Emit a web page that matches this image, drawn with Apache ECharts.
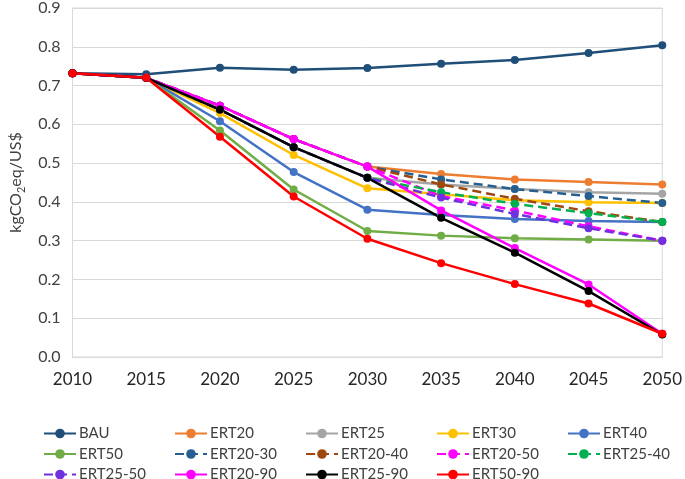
<!DOCTYPE html>
<html>
<head>
<meta charset="utf-8">
<script src="https://cdn.jsdelivr.net/npm/echarts@6/dist/echarts.min.js"></script>
<style>html,body{margin:0;padding:0;background:#fff}#c{width:685px;height:479px}</style>
</head>
<body>
<div id="c"></div>
<script>
const years = ['2010','2015','2020','2025','2030','2035','2040','2045','2050'];
const yTicks = [0,0.1,0.2,0.3,0.4,0.5,0.6,0.7,0.8,0.9];
const BAU      = [0.732, 0.729, 0.746, 0.741, 0.745, 0.756, 0.766, 0.784, 0.804];
const ERT20    = [0.732, 0.720, 0.648, 0.562, 0.491, 0.472, 0.458, 0.451, 0.445];
const ERT25    = [0.732, 0.720, 0.638, 0.541, 0.462, 0.445, 0.433, 0.425, 0.421];
const ERT30    = [0.732, 0.720, 0.629, 0.521, 0.435, 0.420, 0.404, 0.399, 0.397];
const ERT40    = [0.732, 0.720, 0.608, 0.477, 0.380, 0.366, 0.356, 0.351, 0.348];
const ERT50    = [0.732, 0.720, 0.584, 0.432, 0.325, 0.313, 0.306, 0.303, 0.300];
const ERT20_30 = [0.732, 0.720, 0.648, 0.562, 0.491, 0.458, 0.433, 0.415, 0.397];
const ERT20_40 = [0.732, 0.720, 0.648, 0.562, 0.491, 0.445, 0.408, 0.376, 0.348];
const ERT20_50 = [0.732, 0.720, 0.648, 0.562, 0.491, 0.415, 0.378, 0.337, 0.300];
const ERT25_40 = [0.732, 0.720, 0.638, 0.541, 0.462, 0.425, 0.395, 0.371, 0.348];
const ERT25_50 = [0.732, 0.720, 0.638, 0.541, 0.462, 0.411, 0.369, 0.332, 0.300];
const ERT20_90 = [0.732, 0.720, 0.648, 0.562, 0.491, 0.378, 0.281, 0.187, 0.060];
const ERT25_90 = [0.732, 0.720, 0.638, 0.541, 0.462, 0.359, 0.269, 0.170, 0.058];
const ERT50_90 = [0.732, 0.720, 0.568, 0.414, 0.305, 0.242, 0.188, 0.138, 0.060];

const seriesDefs = [
  ['BAU', BAU, '#1F4E79', false],
  ['ERT20', ERT20, '#ED7D31', false],
  ['ERT25', ERT25, '#A5A5A5', false],
  ['ERT30', ERT30, '#FFC000', false],
  ['ERT40', ERT40, '#4472C4', false],
  ['ERT50', ERT50, '#70AD47', false],
  ['ERT20-30', ERT20_30, '#255E91', true],
  ['ERT20-40', ERT20_40, '#9E480E', true],
  ['ERT20-50', ERT20_50, '#FF00FF', true],
  ['ERT25-40', ERT25_40, '#00B050', true],
  ['ERT25-50', ERT25_50, '#7030E0', true],
  ['ERT20-90', ERT20_90, '#FF00FF', false],
  ['ERT25-90', ERT25_90, '#000000', false],
  ['ERT50-90', ERT50_90, '#FF0000', false]
];

const FONT = 'Lato, "Open Sans", sans-serif';
const series = seriesDefs.map(([name, data, color, dashed]) => ({
  name, type: 'line', data,
  symbol: 'circle', symbolSize: 8,
  color,
  lineStyle: { width: 2.5, type: dashed ? [9, 5] : 'solid', color },
  itemStyle: { color },
  animation: false
}));

const colX = [43, 174, 305, 436, 567];
const legends = colX.map((x, i) => ({
  orient: 'vertical', left: x, top: 426, height: 80, padding: 0,
  itemWidth: 32, itemHeight: 12, itemGap: 5.5,
  data: [seriesDefs[i][0], seriesDefs[i+5] && seriesDefs[i+5][0], seriesDefs[i+10] && seriesDefs[i+10][0]].filter(Boolean),
  textStyle: { fontFamily: FONT, fontSize: 15, lineHeight: 14, color: '#404040', padding: [0,0,0,-2] },
  selectedMode: false
}));

const chart = echarts.init(document.getElementById('c'), null, { renderer: 'canvas' });
chart.setOption({
  backgroundColor: '#fff',
  animation: false,
  grid: { left: 66, right: 20, top: 6, bottom: 122, show: true, borderColor: '#d9d9d9', borderWidth: 1 },
  legend: legends,
  xAxis: {
    type: 'category', data: years, boundaryGap: false,
    axisLine: { lineStyle: { color: '#d9d9d9' } },
    axisTick: { show: false },
    axisLabel: { fontFamily: FONT, fontSize: 17, color: '#262626', margin: 14 },
    splitLine: { show: false }
  },
  yAxis: {
    type: 'value', min: 0, max: 0.9, interval: 0.1,
    name: '{a|kgCO}{b|2}{a|eq/US$}', nameLocation: 'middle', nameGap: 46,
    nameTextStyle: { rich: { a: { fontFamily: FONT, fontSize: 16, color: '#404040' }, b: { fontFamily: FONT, fontSize: 11, color: '#404040', padding: [10,0,0,0] } } },
    axisLine: { show: true, lineStyle: { color: '#d9d9d9' } },
    axisTick: { show: false },
    axisLabel: { fontFamily: FONT, fontSize: 16, color: '#404040', margin: 12, formatter: v => v.toFixed(1) },
    splitLine: { lineStyle: { color: '#d9d9d9' } }
  },
  series
});
</script>
</body>
</html>
